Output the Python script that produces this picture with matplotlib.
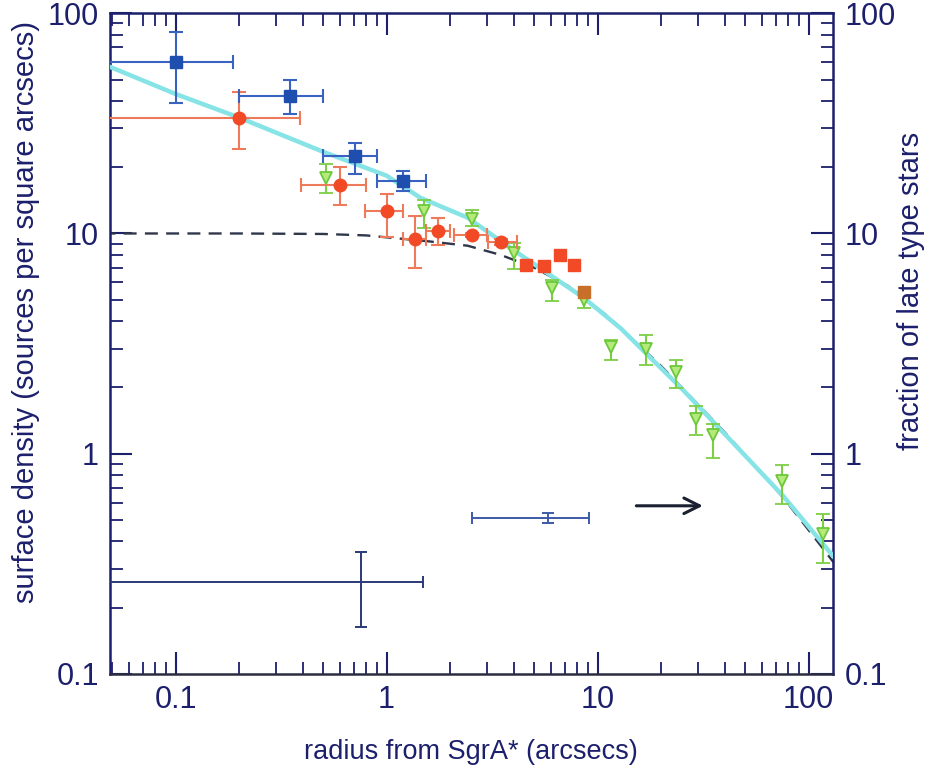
import numpy as np
import matplotlib
matplotlib.use("Agg")
import matplotlib.pyplot as plt

plt.rcParams['font.family'] = ['Liberation Sans Narrow', 'Liberation Sans', 'DejaVu Sans']

NAVY = '#1c1f6b'

# blue squares: x, y, x lo/hi, y lo/hi
blue_x = [0.1, 0.35, 0.705, 1.19]
blue_y = [60, 42, 22.5, 17.3]
blue_xlo = [0.04, 0.199, 0.497, 0.897]
blue_xhi = [0.188, 0.497, 0.897, 1.53]
blue_ylo = [39, 34.7, 18.6, 15.6]
blue_yhi = [82, 50, 25.8, 19.3]

# red circles
red_x = [0.2, 0.60, 1.0, 1.36, 1.76, 2.53, 3.5]
red_y = [33.6, 16.6, 12.6, 9.45, 10.3, 9.84, 9.15]
red_xlo = [0.04, 0.395, 0.787, 1.19, 1.53, 2.08, 3.04]
red_xhi = [0.387, 0.795, 1.2, 1.53, 1.99, 3.0, 4.17]
red_ylo = [24.3, 13.5, 9.6, 7.0, 8.9, 9.6, 8.9]
red_yhi = [43.7, 20.1, 15.1, 12.0, 11.7, 10.1, 9.4]

# red squares
rsq_x = [4.56, 5.55, 6.6, 7.7]
rsq_y = [7.2, 7.15, 7.98, 7.2]
brown_x = [8.6]
brown_y = [5.4]

# green triangles
grn_x = [0.514, 1.5, 2.53, 4.0, 6.05, 8.6, 11.6, 16.9, 23.4, 29.4, 35.1, 74.5, 117]
grn_y = [17.9, 12.6, 11.6, 8.15, 5.65, 5.0, 3.04, 3.0, 2.34, 1.44, 1.21, 0.753, 0.43]
grn_ylo = [15.3, 10.6, 10.8, 6.9, 4.93, 4.6, 2.65, 2.52, 1.98, 1.22, 0.96, 0.59, 0.32]
grn_yhi = [20.7, 14.2, 12.8, 9.04, 6.15, 5.4, 3.3, 3.45, 2.65, 1.64, 1.37, 0.89, 0.53]

# model curves
cyan_x = [0.045, 0.1, 0.2, 0.5, 1.0, 1.45, 2.42, 4.0, 8.6, 12.9, 25.5, 50, 76, 135]
cyan_y = [59, 43, 33.6, 23.5, 18.3, 14.5, 11.8, 8.4, 5.1, 3.7, 1.94, 0.98, 0.64, 0.33]
dash_x = [0.045, 0.2, 0.5, 0.8, 1.13, 1.6, 2.42, 3.46, 5.0, 7.2, 11.2, 20, 40, 76, 110, 135]
dash_y = [10.0, 10.0, 9.95, 9.8, 9.5, 9.2, 8.8, 8.0, 7.0, 5.8, 4.2, 2.5, 1.25, 0.63, 0.40, 0.31]

# sample error bars
samp1 = dict(x=0.753, y=0.261, xlo=0.03, xhi=1.48, ylo=0.164, yhi=0.358)
samp2 = dict(x=5.8, y=0.511, xlo=2.53, xhi=9.06, ylo=0.485, yhi=0.54)
arrow_x = [14.8, 32.5]
arrow_y = 0.58

xticks = [0.1, 1, 10, 100]
xtick_labels = ['0.1', '1', '10', '100']
yticks = [0.1, 1, 10, 100]
ytick_labels = ['0.1', '1', '10', '100']


def asym(v, lo, hi):
    v = np.array(v)
    return [v - np.array(lo), np.array(hi) - v]


fig = plt.figure(figsize=(9.26, 7.8), dpi=100)
ax = fig.add_axes([0.119, 0.136, 0.781, 0.847])
ax.set_xscale('log')
ax.set_yscale('log')
ax.set_xlim(0.049, 131)
ax.set_ylim(0.1, 100)

ax.plot(dash_x, dash_y, color='#30374a', lw=1.7, dashes=(5.5, 3.5), zorder=2)
ax.plot(cyan_x, cyan_y, color='#86e3e6', lw=3.2, zorder=3, solid_capstyle='round')

ax.errorbar(grn_x, grn_y, yerr=asym(grn_y, grn_ylo, grn_yhi), fmt='v', ms=8,
            mfc='#b4ea7c', mec='#6cc83a', mew=1.3, ecolor='#7ccf45', elinewidth=1.5,
            capsize=5, capthick=1.5, zorder=4)
ax.errorbar(red_x, red_y, xerr=asym(red_x, red_xlo, red_xhi), yerr=asym(red_y, red_ylo, red_yhi),
            fmt='o', ms=9, mfc='#f24a26', mec='#f24a26', ecolor='#ee7a5c', elinewidth=1.5,
            capsize=5, capthick=1.5, zorder=5)
ax.plot(rsq_x, rsq_y, 's', ms=9, color='#f24a26', zorder=5)
ax.plot(brown_x, brown_y, 's', ms=9, color='#c8702a', zorder=5)
ax.errorbar(blue_x, blue_y, xerr=asym(blue_x, blue_xlo, blue_xhi), yerr=asym(blue_y, blue_ylo, blue_yhi),
            fmt='s', ms=8, mfc='#1f4fae', mec='#1f4fae', ecolor='#3a62c0', elinewidth=1.5,
            capsize=5, capthick=1.5, zorder=6)

for s, c in [(samp1, '#2a3a78'), (samp2, '#3c5aa8')]:
    ax.errorbar([s['x']], [s['y']], xerr=asym([s['x']], [s['xlo']], [s['xhi']]),
                yerr=asym([s['y']], [s['ylo']], [s['yhi']]), fmt='none', ecolor=c,
                elinewidth=1.4, capsize=4, capthick=1.4, zorder=4)

ax.annotate('', xy=(arrow_x[1], arrow_y), xytext=(arrow_x[0], arrow_y),
            arrowprops=dict(arrowstyle='->', color='#1a2030', lw=2.2, mutation_scale=28))

ax.set_xticks(xticks)
ax.set_xticklabels(xtick_labels)
ax.set_yticks(yticks)
ax.set_yticklabels(ytick_labels)
ax.tick_params(which='both', direction='in', top=True, right=True, colors=NAVY,
               labelsize=22, labelcolor=NAVY)
ax.tick_params(which='major', length=16, width=1.5)
ax.tick_params(axis='x', which='major', pad=8)
ax.tick_params(axis='y', which='major', pad=8)
ax.tick_params(which='minor', length=9, width=1.3)
ax.tick_params(axis='y', labelright=True)
for sp in ax.spines.values():
    sp.set_color(NAVY)
    sp.set_linewidth(1.8)
ax.spines['bottom'].set_color('#2a2d40')

fig.text(0.508, 0.036, 'radius from SgrA* (arcsecs)', fontsize=19.5, color=NAVY,
         ha='center', va='center')
fig.text(0.028, 0.60, 'surface density (sources per square arcsecs)', rotation=90,
         fontsize=21, color=NAVY, ha='center', va='center')
fig.text(0.984, 0.627, 'fraction of late type stars', rotation=90, fontsize=21, color=NAVY,
         ha='center', va='center')

fig.savefig('out.png', dpi=100)
